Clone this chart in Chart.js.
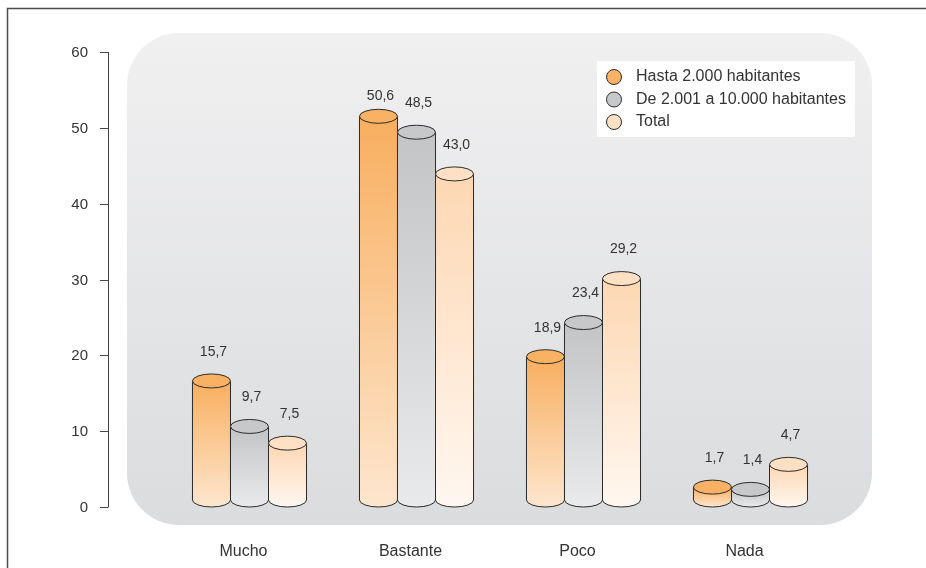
<!DOCTYPE html>
<html>
<head>
<meta charset="utf-8">
<script src="https://cdn.jsdelivr.net/npm/chart.js@4.4.1/dist/chart.umd.min.js"></script>
<style>
  body { margin: 0; background: #fff; }
  #wrap { width: 926px; height: 568px; position: relative; }
</style>
</head>
<body>
<div id="wrap"><canvas id="myChart"></canvas></div>
<script>
const categories = ['Mucho', 'Bastante', 'Poco', 'Nada'];
const seriesNames = ['Hasta 2.000 habitantes', 'De 2.001 a 10.000 habitantes', 'Total'];
const hasta2000 = [15.7, 50.6, 18.9, 1.7];
const de2001a10000 = [9.7, 48.5, 23.4, 1.4];
const total = [7.5, 43.0, 29.2, 4.7];
const yTicks = [0, 10, 20, 30, 40, 50, 60];

const FONT = '"Liberation Sans", Arial, sans-serif';
const TXT = '#333';

// top colour, bottom colour, cap colour for each cylinder
const tones = [
  { top: '#f8ae5e', bottom: '#fde6ce', cap: '#f9b163' },
  { top: '#c3c4c6', bottom: '#e9eaeb', cap: '#c7c8ca' },
  { top: '#fdd7b2', bottom: '#fff7f0', cap: '#fee0c5' }
];

const fmt = v => v.toFixed(1).replace('.', ',');

const frameAndPanel = {
  id: 'frameAndPanel',
  beforeDraw(chart) {
    const c = chart.ctx;
    c.save();
    // rounded grey panel
    const x = 127, y = 33, w = 745, h = 492, r = 52;
    const g = c.createLinearGradient(0, y, 0, y + h);
    g.addColorStop(0, '#f0f0f1');
    g.addColorStop(1, '#dbdcde');
    c.fillStyle = g;
    c.beginPath();
    c.roundRect(x, y, w, h, r);
    c.fill();
    // outer frame
    c.strokeStyle = '#4d4d4d';
    c.lineWidth = 1.5;
    c.beginPath();
    c.moveTo(7.5, 568);
    c.lineTo(7.5, 8.5);
    c.lineTo(926, 8.5);
    c.stroke();
    c.restore();
  }
};

const yAxisDraw = {
  id: 'yAxisDraw',
  afterDraw(chart) {
    const c = chart.ctx;
    const ys = chart.scales.y;
    const ax = 108.5;
    c.save();
    c.strokeStyle = '#444';
    c.lineWidth = 1;
    c.beginPath();
    c.moveTo(ax, ys.getPixelForValue(60));
    c.lineTo(ax, ys.getPixelForValue(0));
    c.stroke();
    c.font = '15px ' + FONT;
    c.fillStyle = TXT;
    c.textAlign = 'right';
    c.textBaseline = 'middle';
    yTicks.forEach(t => {
      const py = Math.round(ys.getPixelForValue(t)) + 0.5;
      c.beginPath();
      c.moveTo(100, py);
      c.lineTo(ax, py);
      c.stroke();
      c.fillText(String(t), 88, py);
    });
    c.restore();
  }
};

const cylinders = {
  id: 'cylinders',
  afterDatasetsDraw(chart) {
    const c = chart.ctx;
    const ry = 7;
    c.save();
    c.lineWidth = 1;
    c.strokeStyle = '#2b2b2b';
    chart.data.datasets.forEach((ds, di) => {
      const meta = chart.getDatasetMeta(di);
      const tone = tones[di];
      meta.data.forEach((bar, i) => {
        const rx = bar.width / 2;
        const cx = bar.x;
        const topY = bar.y - ry;
        const botY = bar.base - ry;
        // body
        const g = c.createLinearGradient(0, topY, 0, botY + ry);
        g.addColorStop(0, tone.top);
        g.addColorStop(1, tone.bottom);
        c.fillStyle = g;
        c.beginPath();
        c.moveTo(cx - rx, topY);
        c.lineTo(cx - rx, botY);
        c.ellipse(cx, botY, rx, ry, 0, Math.PI, 0, true);
        c.lineTo(cx + rx, topY);
        c.closePath();
        c.fill();
        c.beginPath();
        c.moveTo(cx - rx, topY);
        c.lineTo(cx - rx, botY);
        c.ellipse(cx, botY, rx, ry, 0, Math.PI, 0, true);
        c.lineTo(cx + rx, topY);
        c.stroke();
        // top cap
        c.fillStyle = tone.cap;
        c.beginPath();
        c.ellipse(cx, topY, rx, ry, 0, 0, Math.PI * 2);
        c.fill();
        c.stroke();
        // value label
        c.fillStyle = TXT;
        c.font = '14px ' + FONT;
        c.textAlign = 'center';
        c.textBaseline = 'middle';
        const ly = Math.max(topY - 29, chart.chartArea.top + 44);
        c.fillText(fmt(ds.data[i]), cx + 2, ly);
      });
    });
    c.restore();
  }
};

const legendBox = {
  id: 'legendBox',
  afterDraw(chart) {
    const c = chart.ctx;
    c.save();
    c.fillStyle = '#fff';
    c.fillRect(597, 61, 258, 76);
    c.font = '16px ' + FONT;
    c.textAlign = 'left';
    c.textBaseline = 'middle';
    seriesNames.forEach((name, i) => {
      const y = 77 + i * 22.5;
      c.beginPath();
      c.arc(614, y, 7.5, 0, Math.PI * 2);
      c.fillStyle = tones[i].cap;
      c.fill();
      c.strokeStyle = '#2b2b2b';
      c.lineWidth = 1;
      c.stroke();
      c.fillStyle = TXT;
      c.fillText(name, 636, y);
    });
    c.restore();
  }
};

const ctx = document.getElementById('myChart');

new Chart(ctx, {
  type: 'bar',
  data: {
    labels: categories,
    datasets: [
      { label: seriesNames[0], data: hasta2000 },
      { label: seriesNames[1], data: de2001a10000 },
      { label: seriesNames[2], data: total }
    ].map(d => Object.assign(d, {
      backgroundColor: 'rgba(0,0,0,0)',
      borderWidth: 0,
      categoryPercentage: 0.683,
      barPercentage: 1
    }))
  },
  options: {
    responsive: true,
    maintainAspectRatio: false,
    animation: false,
    layout: { padding: { left: 166, right: 92, top: 52, bottom: 0 } },
    plugins: {
      legend: { display: false },
      tooltip: { enabled: false }
    },
    scales: {
      x: {
        grid: { display: false },
        border: { display: false },
        ticks: {
          color: TXT,
          font: { family: FONT, size: 16 },
          padding: 27,
          labelOffset: -6
        },
        afterFit(scale) { scale.height = 61; }
      },
      y: {
        display: false,
        min: 0,
        max: 60
      }
    }
  },
  plugins: [frameAndPanel, cylinders, yAxisDraw, legendBox]
});
</script>
</body>
</html>
